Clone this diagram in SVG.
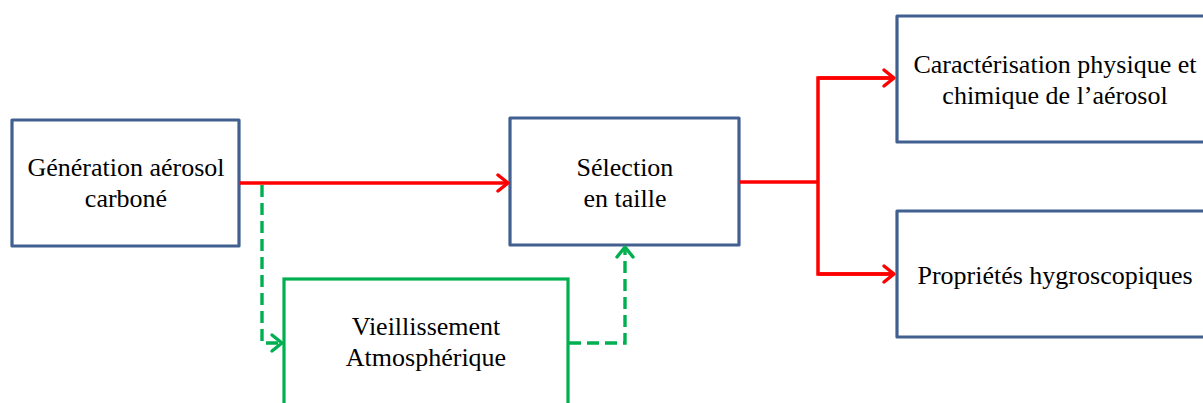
<svg xmlns="http://www.w3.org/2000/svg" width="1203" height="403" viewBox="0 0 1203 403">
<style>
.box{fill:#fff;stroke:#41608F;stroke-width:3.2;stroke-linejoin:round}
.gbox{fill:#fff;stroke:#00B050;stroke-width:3.2}
.t{font-family:"Liberation Serif","Times New Roman","DejaVu Serif",serif;font-size:26px;fill:#000;text-anchor:middle}
.red{fill:none;stroke:#FF0000;stroke-width:3.5}
.grn{fill:none;stroke:#00B050;stroke-width:3.4;stroke-dasharray:12 6}
</style>
<defs>
<marker id="ar" markerUnits="userSpaceOnUse" markerWidth="14" markerHeight="20" refX="12" refY="10" orient="auto" overflow="visible">
<path d="M2,2 L12,10 L2,18" fill="none" stroke="#FF0000" stroke-width="3.5" stroke-linecap="round" stroke-linejoin="round"/>
</marker>
<marker id="ag" markerUnits="userSpaceOnUse" markerWidth="14" markerHeight="20" refX="12" refY="10" orient="auto" overflow="visible">
<path d="M2,2 L12,10 L2,18" fill="none" stroke="#00B050" stroke-width="3.4" stroke-linecap="round" stroke-linejoin="round"/>
</marker>
</defs>
<rect width="1203" height="403" fill="#fff"/>
<g id="generation">
<rect class="box" x="12" y="120" width="227" height="126"/>
<text class="t" x="126" y="176">Génération aérosol</text>
<text class="t" x="126" y="207">carboné</text>
</g>
<g id="vieillissement">
<rect class="gbox" x="284" y="279" width="284" height="140"/>
<text class="t" x="426" y="335">Vieillissement</text>
<text class="t" x="426" y="366">Atmosphérique</text>
</g>
<g id="selection">
<rect class="box" x="510" y="118" width="229" height="127"/>
<text class="t" x="625" y="176">Sélection</text>
<text class="t" x="625" y="207">en taille</text>
</g>
<g id="caracterisation">
<rect class="box" x="897" y="16" width="320" height="126"/>
<text class="t" x="1055" y="73">Caractérisation physique et</text>
<text class="t" x="1055" y="104">chimique de l’aérosol</text>
</g>
<g id="proprietes">
<rect class="box" x="897" y="211" width="320" height="126"/>
<text class="t" x="1055" y="284">Propriétés hygroscopiques</text>
</g>
<g id="connectors">
<path class="red" d="M240,183 L508,183" marker-end="url(#ar)"/>
<path class="grn" d="M262,185 L262,343 L282,343" marker-end="url(#ag)"/>
<path class="grn" d="M569,343 L625,343 L625,247" marker-end="url(#ag)"/>
<path class="red" d="M740,182 L818,182"/>
<path class="red" d="M894,78 L818,78 L818,274 L894,274"/>
<path class="red" d="M818,78 L894,78" marker-end="url(#ar)"/>
<path class="red" d="M818,274 L894,274" marker-end="url(#ar)"/>
</g>
</svg>
